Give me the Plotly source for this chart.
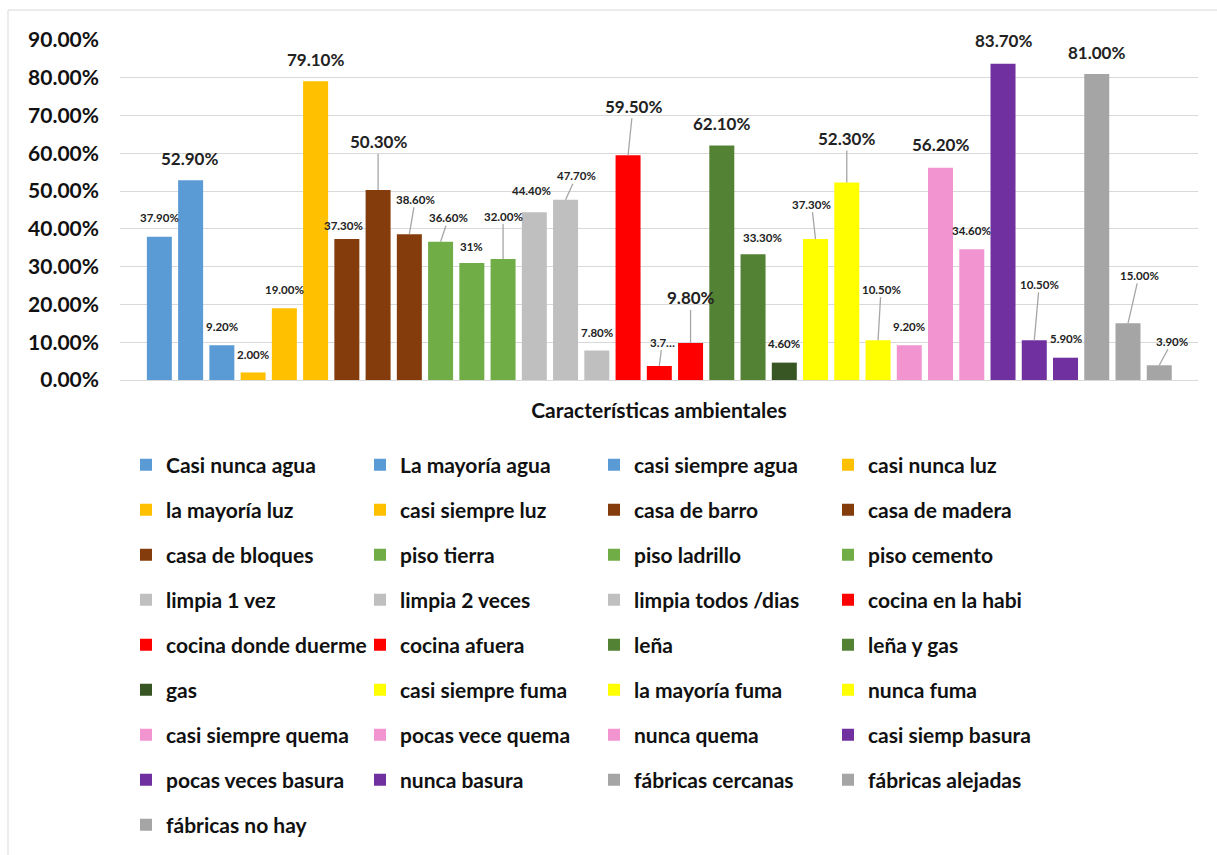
import plotly.graph_objects as go

# ---------------- data ----------------
series = ["Casi nunca agua", "La mayoría agua", "casi siempre agua",
          "casi nunca luz", "la mayoría luz", "casi siempre luz",
          "casa de barro", "casa de madera", "casa de bloques",
          "piso tierra", "piso ladrillo", "piso cemento",
          "limpia 1 vez", "limpia 2 veces", "limpia todos /dias",
          "cocina en la habi", "cocina donde duerme", "cocina afuera",
          "leña", "leña y gas", "gas",
          "casi siempre fuma", "la mayoría fuma", "nunca fuma",
          "casi siempre quema", "pocas vece quema", "nunca quema",
          "casi siemp basura", "pocas veces basura", "nunca basura",
          "fábricas cercanas", "fábricas alejadas", "fábricas no hay"]
values = [0.379, 0.529, 0.092,
          0.020, 0.190, 0.791,
          0.373, 0.503, 0.386,
          0.366, 0.31, 0.320,
          0.444, 0.477, 0.078,
          0.595, 0.037, 0.098,
          0.621, 0.333, 0.046,
          0.373, 0.523, 0.105,
          0.092, 0.562, 0.346,
          0.837, 0.105, 0.059,
          0.810, 0.150, 0.039]
labels = ["37.90%", "52.90%", "9.20%",
          "2.00%", "19.00%", "79.10%",
          "37.30%", "50.30%", "38.60%",
          "36.60%", "31%", "32.00%",
          "44.40%", "47.70%", "7.80%",
          "59.50%", "3.7…", "9.80%",
          "62.10%", "33.30%", "4.60%",
          "37.30%", "52.30%", "10.50%",
          "9.20%", "56.20%", "34.60%",
          "83.70%", "10.50%", "5.90%",
          "81.00%", "15.00%", "3.90%"]
axis_title = "Características ambientales"
y_ticks = [0, 0.1, 0.2, 0.3, 0.4, 0.5, 0.6, 0.7, 0.8, 0.9]

# ---------------- style ----------------
colors = ["#5B9BD5"] * 3 + ["#FFC000"] * 3 + ["#843C0C"] * 3 + ["#70AD47"] * 3 + \
         ["#BFBFBF"] * 3 + ["#FF0000"] * 3 + ["#548235", "#548235", "#375623"] + \
         ["#FFFF00"] * 3 + ["#F194D0"] * 3 + ["#7030A0"] * 3 + ["#A5A5A5"] * 3
big_label = {1, 5, 7, 15, 17, 18, 22, 25, 27, 30}
leader = {7, 8, 9, 11, 13, 15, 16, 17, 21, 22, 23, 28, 31, 32}
label_offsets = [(0, -19), (-1, -22), (0, -19), (0, -18), (0, -19), (0, -22),
                 (-3, -14), (0, -48), (6, -35), (8, -24), (0, -16), (0, -43),
                 (-3, -22), (11, -24), (0, -18), (5, -49), (3, -24), (0, -45),
                 (0, -22), (9, -17), (0, -19), (-4, -35), (0, -44), (3, -51),
                 (0, -19), (0, -23), (0, -19), (0, -23), (5, -56), (0, -19),
                 (0, -22), (11, -48), (13, -24)]

FONT = "Lato"
W, H = 1217, 855
ML, MR, MT, MB = 120, 19, 40, 474
PW, PH = W - ML - MR, H - MT - MB

fig = go.Figure()
for i, (name, v) in enumerate(zip(series, values)):
    row = i // 4
    fig.add_trace(go.Bar(
        x=[name], y=[v], name=name, marker_color=colors[i],
        marker_line_width=0, legend="legend" if row == 0 else f"legend{row + 1}",
        hoverinfo="name+y"))

annotations = []
for i, (name, v, t) in enumerate(zip(series, values, labels)):
    dx, dy = label_offsets[i]
    annotations.append(dict(
        x=name, y=v, xref="x", yref="y", text=t, showarrow=True,
        ax=dx, ay=dy, arrowhead=0, arrowwidth=1.3,
        arrowcolor="#A6A6A6" if i in leader else "rgba(0,0,0,0)",
        font=dict(family=FONT, size=17 if i in big_label else 11.5,
                  color="#222222", weight="bold")))

layout_legends = {}
for r in range(9):
    key = "legend" if r == 0 else f"legend{r + 1}"
    py = 465 + 45 * r
    layout_legends[key] = dict(
        orientation="h", x=(126 - ML) / PW, y=(MT + PH - py) / PH,
        xanchor="left", yanchor="middle", entrywidth=189,
        entrywidthmode="pixels", bgcolor="rgba(0,0,0,0)",
        font=dict(family=FONT, size=21, color="#111111", weight="bold"))

fig.update_layout(
    width=W, height=H, autosize=False,
    margin=dict(l=ML, r=MR, t=MT, b=MB, pad=0),
    paper_bgcolor="white", plot_bgcolor="white",
    barmode="overlay", bargap=0.2,
    showlegend=True,
    annotations=annotations,
    xaxis=dict(showticklabels=False, showgrid=False, zeroline=False,
               showline=False, ticks="", range=[-1.26, 33.24],
               title=dict(text=axis_title, standoff=23,
                          font=dict(family=FONT, size=21, color="#111111",
                                    weight="bold"))),
    yaxis=dict(range=[0, 0.9], tickvals=y_ticks, tickformat=".2%",
               showgrid=True, gridcolor="#D9D9D9", gridwidth=1.3,
               zeroline=True, zerolinecolor="#D9D9D9", zerolinewidth=1.3,
               ticks="", ticklabelstandoff=20,
               tickfont=dict(family=FONT, size=21, color="#111111", weight="bold")),
    shapes=[dict(type="rect", xref="paper", yref="paper",
                 x0=(8 - ML) / PW, x1=(1230 - ML) / PW,
                 y0=(MT + PH - 870) / PH, y1=(MT + PH - 10) / PH,
                 line=dict(color="#D9D9D9", width=1), fillcolor="rgba(0,0,0,0)",
                 layer="below")],
    **layout_legends,
)

fig.write_html("out.html")
